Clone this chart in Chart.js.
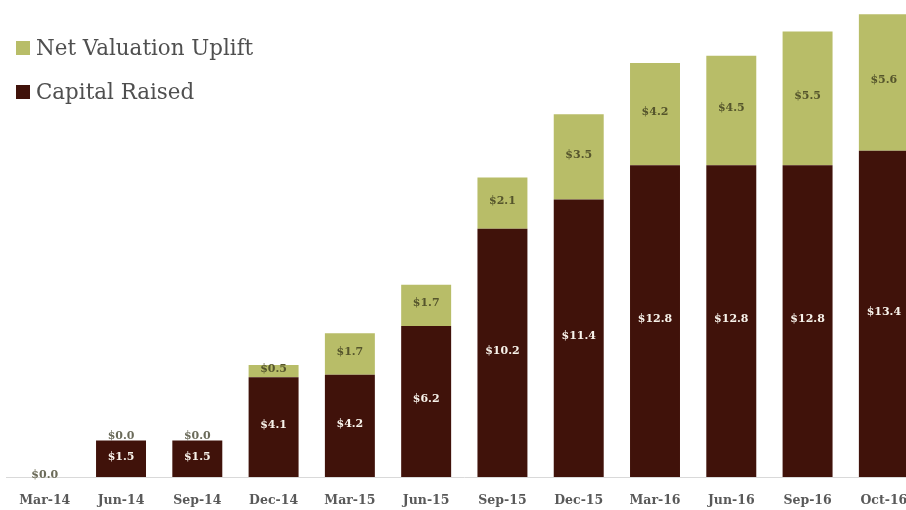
<!DOCTYPE html>
<html>
<head>
<meta charset="utf-8">
<script src="https://cdn.jsdelivr.net/npm/chart.js@4/dist/chart.umd.min.js"></script>
<style>
  html, body { margin: 0; padding: 0; background: #ffffff; overflow: hidden; width: 906px; height: 510px; }
  #wrap { position: absolute; left: 0; top: 0; width: 924px; height: 510px; }
  .legend { position: absolute; left: 16px; font-family: "DejaVu Serif", serif; font-size: 21.4px; color: #4f4f4f; white-space: nowrap; }
  .legend .sw { display: inline-block; width: 14px; height: 14px; margin-right: 6px; vertical-align: 0px; }
</style>
</head>
<body>
<div id="wrap">
  <canvas id="c" width="924" height="510"></canvas>
</div>
<div class="legend" id="lg1" style="top:35px;"><span class="sw" style="background:#b8bd68"></span>Net Valuation Uplift</div>
<div class="legend" id="lg2" style="top:79px;"><span class="sw" style="background:#40120a"></span>Capital Raised</div>
<script>
// Quarterly funding figures ($m)
const quarters = ['Mar-14', 'Jun-14', 'Sep-14', 'Dec-14', 'Mar-15', 'Jun-15', 'Sep-15', 'Dec-15', 'Mar-16', 'Jun-16', 'Sep-16', 'Oct-16'];
const capitalRaised = [0.0, 1.5, 1.5, 4.1, 4.2, 6.2, 10.2, 11.4, 12.8, 12.8, 12.8, 13.4];
const valuationUplift = [0.0, 0.0, 0.0, 0.5, 1.7, 1.7, 2.1, 3.5, 4.2, 4.5, 5.5, 5.6];

const labelColors = ['#f7f2ea', '#55552c'];

// Writes the "$x.x" value at the middle of each stacked segment
const segmentLabels = {
  id: 'segmentLabels',
  afterDatasetsDraw(chart) {
    const ctx = chart.ctx;
    ctx.save();
    ctx.font = 'bold 11px "DejaVu Serif", serif';
    ctx.textAlign = 'center';
    ctx.textBaseline = 'middle';
    chart.data.datasets.forEach((ds, di) => {
      const meta = chart.getDatasetMeta(di);
      meta.data.forEach((bar, i) => {
        const v = ds.data[i];
        const cy = (bar.y + bar.base) / 2;
        ctx.fillStyle = labelColors[di];
        if (di === 1 && v === 0) ctx.fillStyle = '#6b6b5a';
        ctx.fillText('$' + v.toFixed(1), bar.x, di === 1 && v === 0 && i > 0 ? cy - 4 : cy - 2);
      });
    });
    ctx.restore();
  }
};

new Chart(document.getElementById('c'), {
  type: 'bar',
  data: {
    labels: quarters,
    datasets: [
      { label: 'Capital Raised', data: capitalRaised, backgroundColor: '#40120a', borderWidth: 0 },
      { label: 'Net Valuation Uplift', data: valuationUplift, backgroundColor: '#b8bd68', borderWidth: 0 }
    ]
  },
  options: {
    responsive: false,
    animation: false,
    layout: { padding: { left: 6.6, right: 2, top: 0, bottom: 0 } },
    datasets: { bar: { barPercentage: 0.655, categoryPercentage: 1.0 } },
    plugins: { legend: { display: false }, tooltip: { enabled: false } },
    scales: {
      x: {
        stacked: true,
        grid: { display: false, drawTicks: false },
        border: { display: true, color: '#d9d9d9', width: 1 },
        ticks: {
          color: '#595959',
          font: { family: '"DejaVu Serif", serif', size: 12.5, weight: 'bold' },
          padding: 16,
          maxRotation: 0,
          autoSkip: false
        },
        afterFit(scale) { scale.height = 33; }
      },
      y: {
        stacked: true,
        display: false,
        min: 0,
        max: 19.59
      }
    }
  },
  plugins: [segmentLabels]
});
</script>
</body>
</html>
